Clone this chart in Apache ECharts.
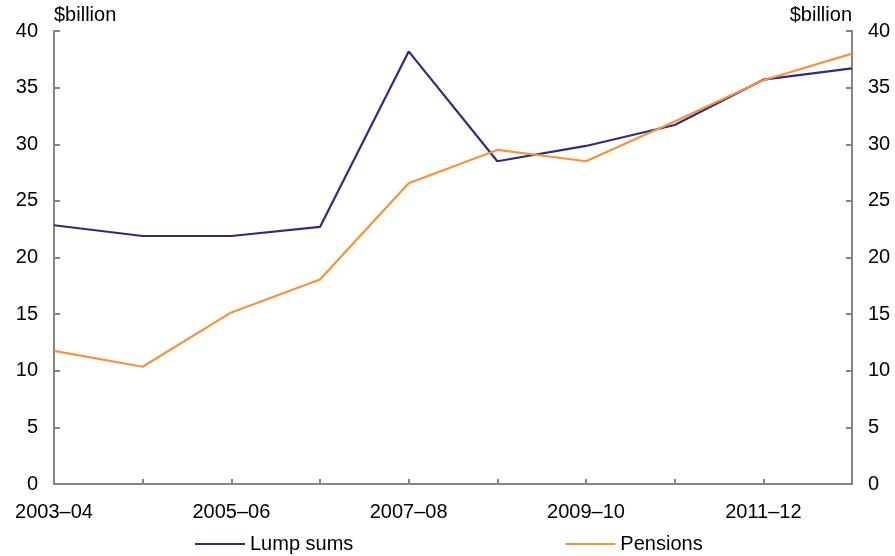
<!DOCTYPE html>
<html><head><meta charset="utf-8">
<script src="https://cdn.jsdelivr.net/npm/echarts@6/dist/echarts.min.js"></script>
<style>html,body{margin:0;padding:0;background:#fff}#c{width:895px;height:556px}</style>
</head><body><div id="c"></div>
<script>
const categories = ['2003–04','2004–05','2005–06','2006–07','2007–08','2008–09','2009–10','2010–11','2011–12','2012–13'];
const lumpSums = [22.85, 21.9, 21.9, 22.7, 38.2, 28.5, 29.85, 31.7, 35.7, 36.7];
const pensions = [11.75, 10.35, 15.15, 18.05, 26.55, 29.5, 28.5, 32.0, 35.65, 38.0];
const yTicks = [0, 40, 5];
const font = 'Liberation Sans, Arial, sans-serif';
const axisColor = '#858585';
const fs = 20;
const chart = echarts.init(document.getElementById('c'));
function yAxis(pos){
  return {
    type:'value', position:pos, min:yTicks[0], max:yTicks[1], interval:yTicks[2],
    name:'$billion', nameLocation:'end', nameGap:6,
    nameTextStyle:{color:'#000', fontFamily:font, fontSize:fs, align: pos==='left'?'left':'right'},
    axisLine:{show:true, lineStyle:{color:axisColor, width:2}},
    axisTick:{show:true, inside:true, length:6, lineStyle:{color:axisColor, width:2}},
    axisLabel:{color:'#000', fontFamily:font, fontSize:fs, margin:16},
    splitLine:{show:false}
  };
}
chart.setOption({
  animation:false,
  grid:{left:54, right:43, top:31, bottom:72, containLabel:false},
  legend:{
    top:529, left:190, itemGap:212, itemWidth:50, itemHeight:2,
    icon:'rect',
    textStyle:{color:'#000', fontFamily:font, fontSize:fs},
    data:['Lump sums','Pensions']
  },
  xAxis:{
    type:'category', data:categories, boundaryGap:false,
    axisLine:{lineStyle:{color:axisColor, width:2}},
    axisTick:{show:true, inside:true, length:5, interval:0, lineStyle:{color:axisColor, width:2}},
    axisLabel:{color:'#000', fontFamily:font, fontSize:fs, margin:18, interval:1}
  },
  yAxis:[yAxis('left'), yAxis('right')],
  series:[
    {name:'Lump sums', type:'line', data:lumpSums, yAxisIndex:0, symbol:'none', lineStyle:{color:'#2E2B80', width:2.2}, itemStyle:{color:'#2E2B80'}},
    {name:'Pensions', type:'line', data:pensions, yAxisIndex:0, symbol:'none', lineStyle:{color:'#F7923A', width:2.2}, itemStyle:{color:'#F7923A'}}
  ]
});
</script></body></html>
